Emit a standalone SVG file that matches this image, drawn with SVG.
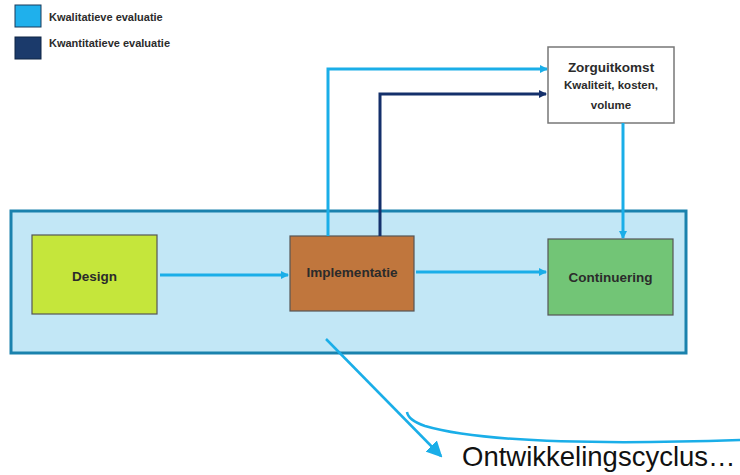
<svg xmlns="http://www.w3.org/2000/svg" width="740" height="475" viewBox="0 0 740 475">
<style>
.lbl{font-family:"Liberation Sans",Arial,sans-serif;font-weight:bold;fill:#2b2b2b}
.node{stroke:#555;stroke-width:1.2}
.lb{fill:none;stroke:#1aaee8;stroke-width:3}
.db{fill:none;stroke:#14306b;stroke-width:3}
</style>
<defs>
<marker id="al" markerWidth="8" markerHeight="8" refX="7" refY="4" orient="auto" markerUnits="userSpaceOnUse"><path d="M0,0 L8,4 L0,8 Z" fill="#1aaee8"/></marker>
<marker id="ad" markerWidth="8" markerHeight="8" refX="7" refY="4" orient="auto" markerUnits="userSpaceOnUse"><path d="M0,0 L8,4 L0,8 Z" fill="#14306b"/></marker>
<marker id="abig" markerWidth="16" markerHeight="16" refX="14" refY="8" orient="auto" markerUnits="userSpaceOnUse"><path d="M0,0 L16,8 L0,16 Z" fill="#1aaee8"/></marker>
</defs>
<rect width="740" height="475" fill="#ffffff"/>
<g id="legend">
<rect x="15" y="5" width="26" height="22" fill="#1fb0ec" stroke="#1a3a5a" stroke-width="1"/>
<text class="lbl" x="49" y="21" font-size="11">Kwalitatieve evaluatie</text>
<rect x="15" y="37" width="26" height="22" fill="#1b3a6b" stroke="#0f2545" stroke-width="1"/>
<text class="lbl" x="49" y="47" font-size="11">Kwantitatieve evaluatie</text>
</g>
<g id="container">
<rect x="11" y="211" width="675" height="142" fill="#c2e7f6" stroke="#1a82ad" stroke-width="3"/>
</g>
<g id="zorguitkomst">
<rect x="548" y="47" width="126" height="76" fill="#ffffff" stroke="#777" stroke-width="1.5"/>
<text class="lbl" x="611" y="72" font-size="13.5" text-anchor="middle">Zorguitkomst</text>
<text class="lbl" x="611" y="89" font-size="11.5" text-anchor="middle">Kwaliteit, kosten,</text>
<text class="lbl" x="611" y="109" font-size="11.5" text-anchor="middle">volume</text>
</g>
<g id="design">
<rect class="node" x="32" y="235" width="125" height="79" fill="#c5e63b"/>
<text class="lbl" x="94.5" y="281" font-size="13.5" text-anchor="middle">Design</text>
</g>
<g id="implementatie">
<rect class="node" x="290" y="236" width="124" height="75" fill="#c0763d"/>
<text class="lbl" x="352" y="277" font-size="13.5" text-anchor="middle">Implementatie</text>
</g>
<g id="continuering">
<rect class="node" x="548" y="239" width="125" height="76" fill="#72c576"/>
<text class="lbl" x="610.5" y="282" font-size="13.5" text-anchor="middle">Continuering</text>
</g>
<g id="connectors">
<line class="lb" x1="160" y1="275" x2="288" y2="275" marker-end="url(#al)"/>
<line class="lb" x1="416" y1="272" x2="546" y2="272" marker-end="url(#al)"/>
<polyline class="lb" points="328,236 328,69 547,69" marker-end="url(#al)"/>
<polyline class="db" points="380,236 380,94 546,94" marker-end="url(#ad)"/>
<line class="lb" x1="623" y1="123" x2="623" y2="238" marker-end="url(#al)"/>
<line x1="326" y1="339" x2="441" y2="456" stroke="#1aaee8" stroke-width="2.5" marker-end="url(#abig)"/>
<path d="M407,412 Q408,420 425,426 Q500,448 740,440" fill="none" stroke="#1aaee8" stroke-width="2.5"/>
</g>
<g id="caption">
<text x="462" y="466" font-family="'Liberation Sans',Arial,sans-serif" font-size="27.5" fill="#111">Ontwikkelingscyclus…</text>
</g>
</svg>
